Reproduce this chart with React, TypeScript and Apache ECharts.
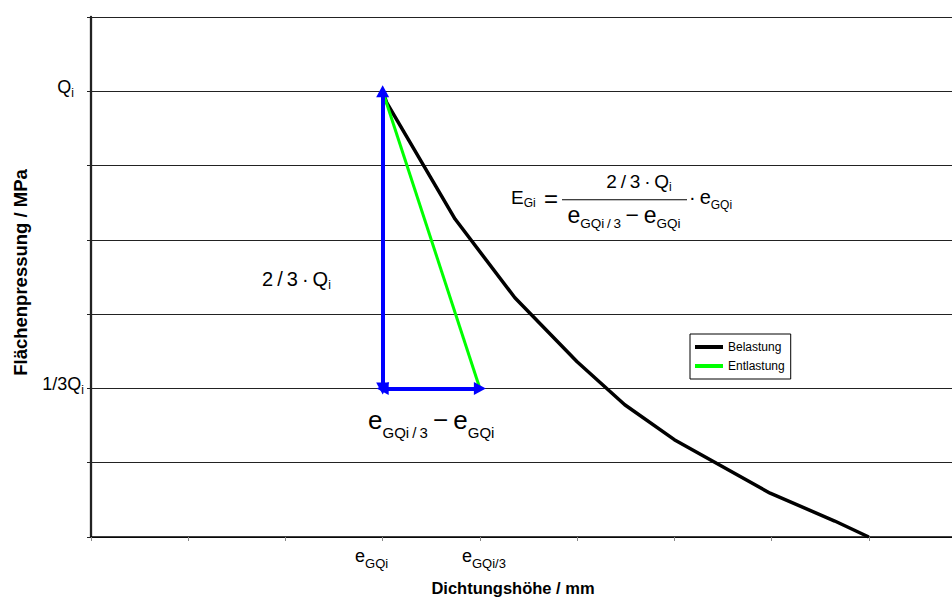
import React, { useEffect, useRef } from "react";
import * as echarts from "echarts";

const FONT = "'Liberation Sans', Arial, Helvetica, sans-serif";

// Axis ranges (relative units of Dichtungshöhe and Flächenpressung)
const X_MIN = 0;
const X_MAX = 9;
const Y_MIN = 0;
const Y_MAX = 7;

// Belastung: loading curve
const loadingX = [3.0, 3.04, 3.745, 4.36, 5.0, 5.49, 6.0, 6.985, 7.65, 8.0];
const loadingY = [6.0, 5.85, 4.28, 3.22, 2.36, 1.78, 1.31, 0.59, 0.215, 0];

// Entlastung: unloading line from Q_i down to 1/3 Q_i
const unloadingX = [3, 4];
const unloadingY = [6, 2];

const seriesNames = ["Belastung", "Entlastung"];

// Labelled ticks
const yTickValues = [2, 6];
const yTickMain = ["1/3Q", "Q"];
const yTickSub = ["i", "i"];
const xTickValues = [3, 4];
const xTickMain = ["e", "e"];
const xTickSub = ["GQi", "GQi/3"];

// Annotation anchors in axis units
const formulaAnchor = [4.32, 4.54];
const heightLabelAnchor = [1.76, 3.47];
const widthLabelAnchor = [2.85, 1.575];

const TS = "\u2009";
const MINUS = "\u2212";

export default function App() {
  const ref = useRef<HTMLDivElement>(null);

  useEffect(() => {
    const el = ref.current!;
    const chart = echarts.init(el, null, { renderer: "svg" });

    const option: any = {
      animation: false,
      backgroundColor: "#fff",
      textStyle: { fontFamily: FONT },
      grid: {
        left: 91,
        top: 17,
        width: 875,
        height: 520,
        containLabel: false,
        outerBoundsMode: "none",
      },
      legend: {
        data: seriesNames,
        orient: "vertical",
        left: 690,
        top: 334,
        padding: [6, 6, 6, 5],
        icon: "rect",
        itemWidth: 28,
        itemHeight: 4,
        itemGap: 5,
        backgroundColor: "#fff",
        borderColor: "#000",
        borderWidth: 1,
        borderRadius: 0,
        textStyle: { fontFamily: FONT, fontSize: 12, color: "#000", lineHeight: 14 },
      },
      xAxis: {
        type: "value",
        min: X_MIN,
        max: X_MAX,
        interval: 1,
        name: "Dichtungshöhe / mm",
        nameLocation: "middle",
        nameGap: 42,
        nameTextStyle: {
          fontFamily: FONT,
          fontSize: 16.5,
          fontWeight: "bold",
          color: "#000",
          padding: [0, 31, 0, 0],
        },
        axisLine: { show: true, onZero: false, lineStyle: { color: "#000", width: 1.5 } },
        axisTick: { show: true, length: 4, lineStyle: { color: "#888", width: 1 } },
        splitLine: { show: false },
        axisLabel: {
          margin: 4,
          color: "#000",
          fontFamily: FONT,
          formatter: (v: number) => {
            const k = xTickValues.indexOf(v);
            if (k < 0) return "";
            const txt = `{m|${xTickMain[k]}}{s|${xTickSub[k]}}`;
            return k === 0 ? `${txt}{g1| }` : `{g2| }${txt}`;
          },
          rich: {
            m: { fontSize: 18, fontFamily: FONT, color: "#000" },
            s: { fontSize: 13, fontFamily: FONT, color: "#000", padding: [16, 0, 0, 0] },
            g1: { width: 22 },
            g2: { width: 8 },
          },
        },
      },
      yAxis: {
        type: "value",
        min: Y_MIN,
        max: Y_MAX,
        interval: 1,
        name: "Flächenpressung / MPa",
        nameLocation: "middle",
        nameGap: 61,
        nameTextStyle: {
          fontFamily: FONT,
          fontSize: 18.5,
          fontWeight: "bold",
          color: "#000",
          padding: [0, 0, 0, 9],
        },
        axisLine: { show: true, lineStyle: { color: "#222", width: 2.3 } },
        axisTick: { show: true, length: 4, lineStyle: { color: "#222", width: 1 } },
        splitLine: { show: true, lineStyle: { color: "#222", width: 1 } },
        axisLabel: {
          margin: 7,
          color: "#000",
          fontFamily: FONT,
          formatter: (v: number) => {
            const k = yTickValues.indexOf(v);
            if (k < 0) return "";
            const txt = `{m|${yTickMain[k]}}{s|${yTickSub[k]}}`;
            return k === 1 ? `${txt}{g| }` : txt;
          },
          rich: {
            m: { fontSize: 18, fontFamily: FONT, color: "#000", padding: [0, 0, 8, 0] },
            s: { fontSize: 12, fontFamily: FONT, color: "#000", padding: [4, 0, 0, 0] },
            g: { width: 10 },
          },
        },
      },
      series: [
        {
          name: seriesNames[0],
          type: "line",
          symbol: "none",
          data: loadingX.map((x, i) => [x, loadingY[i]]),
          lineStyle: { color: "#000", width: 3.5 },
          itemStyle: { color: "#000" },
          z: 2,
        },
        {
          name: seriesNames[1],
          type: "line",
          symbol: "none",
          data: unloadingX.map((x, i) => [x, unloadingY[i]]),
          lineStyle: { color: "#00ff00", width: 3 },
          itemStyle: { color: "#00ff00" },
          z: 3,
        },
        {
          name: "arrows",
          type: "line",
          data: [],
          z: 4,
          markLine: {
            silent: true,
            symbol: ["triangle", "triangle"],
            symbolSize: [13, 12],
            label: { show: false },
            lineStyle: { color: "#0000ff", width: 4, type: "solid" },
            itemStyle: { color: "#0000ff" },
            data: [
              [{ coord: [unloadingX[0], unloadingY[1]] }, { coord: [unloadingX[0], unloadingY[0]] }],
              [{ coord: [unloadingX[0], unloadingY[1]] }, { coord: [unloadingX[1], unloadingY[1]] }],
            ],
          },
        },
      ],
    };

    chart.setOption(option);

    const px = (p: number[]) => chart.convertToPixel({ gridIndex: 0 }, p) as number[];
    const F = px(formulaAnchor);
    const H = px(heightLabelAnchor);
    const W = px(widthLabelAnchor);

    const mk = (size: number) => ({ fontSize: size, fontFamily: FONT, fill: "#000" });

    const graphic: any[] = [
      // 2/3 · Q_i next to the vertical arrow
      {
        type: "text",
        x: H[0],
        y: H[1],
        style: {
          text: `{m|2${TS}/${TS}3${TS}·${TS}Q}{s|i}`,
          align: "left",
          verticalAlign: "middle",
          rich: {
            m: mk(20),
            s: { ...mk(12), padding: [11, 0, 0, 0] },
          },
        },
      },
      // e_GQi/3 − e_GQi under the horizontal arrow
      {
        type: "text",
        x: W[0],
        y: W[1],
        style: {
          text: `{m|e}{s|GQi${TS}/${TS}3}{m|${TS}${MINUS}${TS}e}{s|GQi}`,
          align: "left",
          verticalAlign: "middle",
          rich: {
            m: mk(26),
            s: { ...mk(15), padding: [24, 0, 0, 0] },
          },
        },
      },
      // E_Gi =
      {
        type: "text",
        x: F[0],
        y: F[1] - 2.3,
        style: {
          text: "{m|E}{s|Gi}",
          align: "left",
          verticalAlign: "middle",
          rich: { m: mk(19), s: { ...mk(12), padding: [11, 0, 0, 0] } },
        },
      },
      {
        type: "text",
        x: F[0] + 33,
        y: F[1] - 1,
        style: { text: "=", ...mk(24), align: "left", verticalAlign: "middle" },
      },
      // fraction bar
      {
        type: "line",
        shape: { x1: F[0] + 51, y1: F[1], x2: F[0] + 176, y2: F[1] },
        style: { stroke: "#000", lineWidth: 1.2 },
      },
      // numerator
      {
        type: "text",
        x: F[0] + 128,
        y: F[1] - 18.3,
        style: {
          text: `{m|2${TS}/${TS}3${TS}·${TS}Q}{s|i}`,
          align: "center",
          verticalAlign: "middle",
          rich: { m: mk(19), s: { ...mk(12), padding: [11, 0, 0, 0] } },
        },
      },
      // denominator
      {
        type: "text",
        x: F[0] + 113,
        y: F[1] + 15.6,
        style: {
          text: `{m|e}{s|GQi${TS}/${TS}3}{m|${TS}${MINUS}${TS}e}{s|GQi}`,
          align: "center",
          verticalAlign: "middle",
          rich: { m: mk(23), s: { ...mk(13.5), padding: [17, 0, 0, 0] } },
        },
      },
      // · e_GQi
      {
        type: "text",
        x: F[0] + 178,
        y: F[1] - 2.7,
        style: {
          text: `{m|·${TS}e}{s|GQi}`,
          align: "left",
          verticalAlign: "middle",
          rich: { m: mk(20), s: { ...mk(12), padding: [15, 0, 0, 0] } },
        },
      },
    ];

    chart.setOption({ graphic });

    return () => {
      chart.dispose();
    };
  }, []);

  return (
    <div
      ref={ref}
      style={{
        position: "absolute",
        left: 0,
        top: 0,
        width: 952,
        height: 597,
        overflow: "hidden",
        background: "#fff",
      }}
    />
  );
}
